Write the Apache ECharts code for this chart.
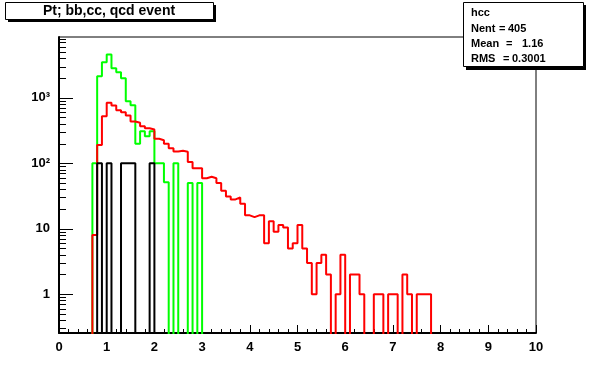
<!DOCTYPE html>
<html><head><meta charset="utf-8">
<script src="https://cdn.jsdelivr.net/npm/echarts@6/dist/echarts.min.js"></script>
<style>html,body{margin:0;padding:0;background:#fff}#c{width:596px;height:372px}</style>
</head><body><div id="c"></div>
<script>
// ---- data (bin width 0.1, values per bin starting at the given lower edge) ----
const binWidth = 0.1;
const redStart = 0.7;
const redValues = [8, 190, 520, 840, 760, 645, 600, 535, 435, 415,
  368, 343, 327, 236, 225, 198, 170, 151, 155, 150,
  104, 84, 84, 59, 62, 59, 50, 38, 31, 28,
  30, 24, 16, 15, 16, 16, 6, 13, 9, 11.4,
  10.4, 5, 6, 11.4, 5, 3, 1, 3, 4, 2,
  0, 1, 4, 0, 2, 2, 1, 0, 0, 1,
  1, 0, 1, 1, 0, 2, 1, 0, 1, 1, 1];
const greenStart = 0.7;
const greenValues = [100, 2130, 3480, 4600, 2820, 2450, 1980, 885, 770, 198,
  308, 259, 308, 100, 100, 51, 0, 100, 0, 0, 50, 0, 50];
const blackStart = 0.8;
const blackValues = [100, 0, 100, 0, 0, 100, 100, 100, 0, 0, 0, 100];
const xTickLabels = ['0','1','2','3','4','5','6','7','8','9','10'];
const statsTitle = 'hcc';
const statsRows = [['Nent', '=', '405'], ['Mean', '=', '1.16'], ['RMS', '=', '0.3001']];
const chartTitle = 'Pt; bb,cc, qcd event';

const yMin = 0.255, yMax = 8480;
const floorVal = 1e-3;
const FONT = '"Liberation Sans", Arial, sans-serif';

function stepPoints(start, vals) {
  const pts = [];
  const r = v => Math.round(v * 1000) / 1000;
  pts.push([r(start), floorVal]);
  vals.forEach((v, i) => pts.push([r(start + i * binWidth), v > 0 ? v : floorVal]));
  pts.push([r(start + vals.length * binWidth), floorVal]);
  return pts;
}

// y tick values (1..9 per decade) inside the axis range
const yTicks = [];
for (let d = -1; d <= 3; d++) {
  for (let m = 1; m <= 9; m++) {
    const v = m * Math.pow(10, d);
    if (v >= yMin && v <= yMax) yTicks.push([0, v, m === 1 ? 1 : 0]);
  }
}

const chart = echarts.init(document.getElementById('c'), null, {renderer: 'canvas'});
const histLine = (name, color, start, vals) => ({
  name, type: 'line', step: 'end', symbol: 'none', clip: true,
  data: stepPoints(start, vals),
  lineStyle: {color, width: 2}, itemStyle: {color}, z: 3
});

chart.setOption({
  animation: false,
  backgroundColor: '#fff',
  grid: {left: 59, top: 37, right: 60, bottom: 39, show: true, borderColor: '#000', borderWidth: 1, backgroundColor: 'transparent'},
  xAxis: {
    type: 'value', min: 0, max: 10, interval: 1,
    axisLine: {show: true, onZero: false, lineStyle: {color: '#000', width: 2}},
    axisTick: {show: true, inside: true, length: 8, lineStyle: {color: '#000'}},
    minorTick: {show: true, splitNumber: 5, length: 4, lineStyle: {color: '#000'}},
    splitLine: {show: false},
    axisLabel: {color: '#000', fontFamily: FONT, fontSize: 13, fontWeight: 'bold', margin: 8,
      formatter: v => xTickLabels[Math.round(v)] || ''}
  },
  yAxis: {
    type: 'log', logBase: 10, min: yMin, max: yMax,
    axisLine: {show: true, lineStyle: {color: '#000', width: 2}},
    axisTick: {show: false},
    splitLine: {show: false},
    axisLabel: {color: '#000', fontFamily: FONT, fontSize: 13, fontWeight: 'bold', margin: 9,
      formatter: function (v) {
        const l = Math.log10(v), e = Math.round(l);
        if (Math.abs(l - e) > 1e-6) return '';
        if (e === 0) return '1';
        if (e === 1) return '10';
        return '10' + (e === 2 ? '\u00B2' : e === 3 ? '\u00B3' : '^' + e);
      }}
  },
  series: [
    {
      type: 'custom', coordinateSystem: 'cartesian2d', data: yTicks, z: 4, silent: true,
      renderItem: function (params, api) {
        const p = api.coord([api.value(0), api.value(1)]);
        const len = api.value(2) ? 14 : 7;
        const y = Math.round(p[1]) + 0.5;
        return {type: 'line', shape: {x1: p[0], y1: y, x2: p[0] + len, y2: y}, style: {stroke: '#000', lineWidth: 1}};
      }
    },
    histLine('green', '#00ff00', greenStart, greenValues),
    histLine('red', '#ff0000', redStart, redValues),
    histLine('black', '#000000', blackStart, blackValues)
  ],
  graphic: [
    {type: 'rect', shape: {x: 8, y: 5, width: 208, height: 17}, style: {fill: '#000'}, z: 10},
    {type: 'rect', shape: {x: 5.5, y: 2.5, width: 208, height: 17}, style: {fill: '#fff', stroke: '#000', lineWidth: 1}, z: 11},
    {type: 'text', x: 109, y: 11, z: 12, style: {text: chartTitle, fill: '#000', font: 'bold 14px ' + FONT, align: 'center', verticalAlign: 'middle'}},
    {type: 'rect', shape: {x: 466, y: 5, width: 120, height: 65}, style: {fill: '#000'}, z: 10},
    {type: 'rect', shape: {x: 463.5, y: 2.5, width: 120, height: 64}, style: {fill: '#fff', stroke: '#000', lineWidth: 1}, z: 11},
    {type: 'text', x: 471, y: 13, z: 12, style: {text: statsTitle, fill: '#000', font: 'bold 11px ' + FONT, verticalAlign: 'middle'}},
    ...statsRows.flatMap((row, i) => {
      const y = 29 + i * 15;
      const eqX = [499, 506, 503][i];
      const valX = [508, 522, 512][i];
      return [
        {type: 'text', x: 471, y, z: 12, style: {text: row[0], fill: '#000', font: 'bold 11px ' + FONT, verticalAlign: 'middle'}},
        {type: 'text', x: eqX, y, z: 12, style: {text: row[1], fill: '#000', font: 'bold 11px ' + FONT, verticalAlign: 'middle'}},
        {type: 'text', x: valX, y, z: 12, style: {text: row[2], fill: '#000', font: 'bold 11px ' + FONT, verticalAlign: 'middle'}}
      ];
    })
  ]
});
</script>
</body></html>
